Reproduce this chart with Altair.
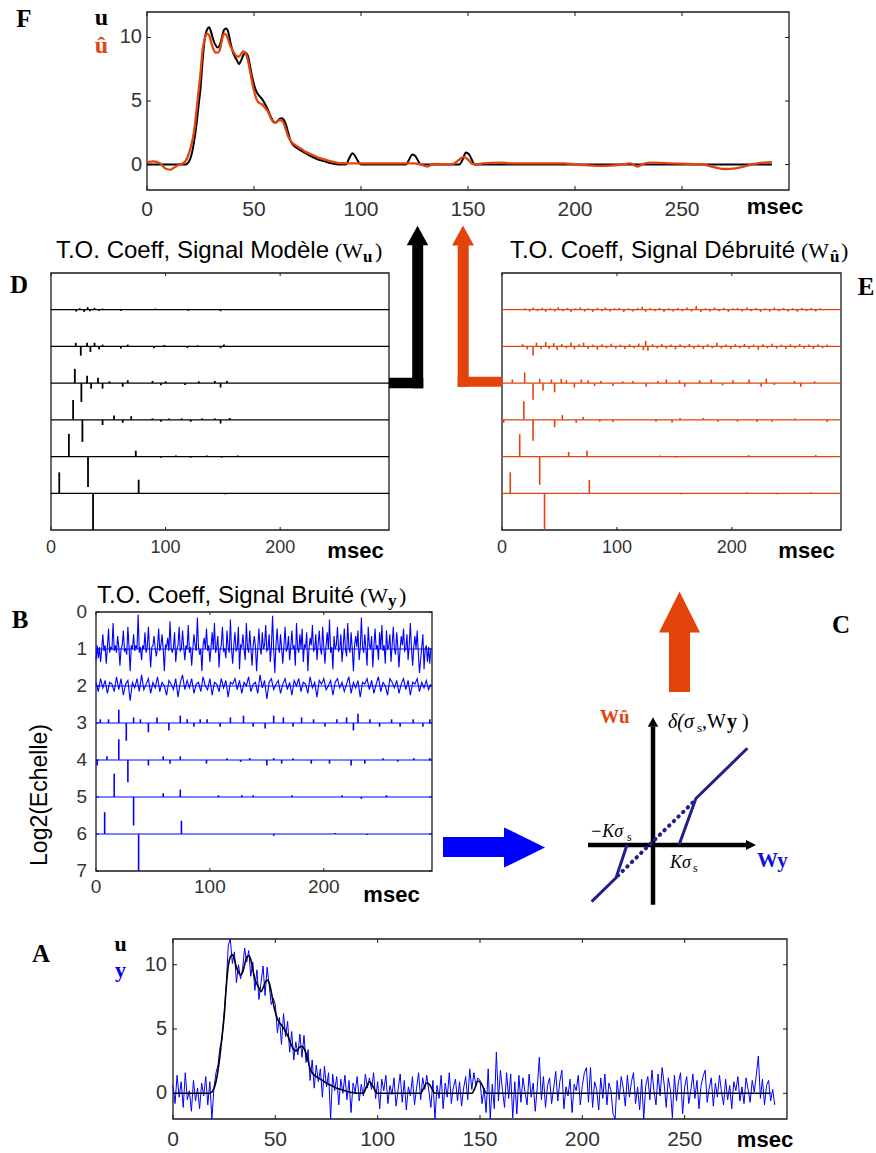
import altair as alt
import pandas as pd

W, H = 876, 1153
ORANGE = "#e2440c"
BLUE = "#0000ff"
NAVY = "#20208c"
INK = "#1a1a1a"
LABEL = "#333333"
SANS = "Liberation Sans"
SERIF = "Liberation Serif"

# ---------------- panel frames (data domain -> pixel range) ----------------
F_FRAME = {"xd": [0, 300], "xr": [147, 789], "yd": [-2, 12], "yr": [190, 12]}
A_FRAME = {"xd": [0, 300], "xr": [173, 787], "yd": [-2, 12], "yr": [1119, 939]}
B_FRAME = {"xd": [0, 295], "xr": [96, 432], "yd": [0, 7], "yr": [612, 871]}
D_FRAME = {"xd": [0, 295], "xr": [51, 389], "yd": [0, 7], "yr": [273, 530]}
E_FRAME = {"xd": [0, 295], "xr": [502, 841], "yd": [0, 7], "yr": [273, 530]}
C_FRAME = {"xd": [-3, 4], "xr": [575, 757], "yd": [-3, 5], "yr": [923, 715]}

SIG_XTICKS = [0, 50, 100, 150, 200, 250]
SIG_YTICKS = [0, 5, 10]
COEF_XTICKS = [0, 100, 200]
LEVEL_TICKS = [0, 1, 2, 3, 4, 5, 6, 7]
LEVELS = [1, 2, 3, 4, 5, 6]

# ---------------- signals ----------------
U_T = [0, 18, 19.5, 21, 22, 23, 24, 25, 26, 27, 28, 29, 30, 31, 32, 33, 34, 35, 36, 37, 38, 39,
       40, 41, 42, 43, 44, 45, 46, 47, 48, 49, 50, 51, 52, 53, 54, 55, 56, 57, 58, 59, 60, 61,
       62, 63, 64, 65, 66, 67, 68, 70, 72, 74, 76, 78, 80, 82, 84, 86, 88, 90, 93, 94.5, 96,
       97.5, 99, 100, 121, 122.5, 124, 125.5, 127, 128, 146, 147.5, 149, 150.5, 152, 153, 292]
U_V = [0, 0, 0.2, 0.9, 1.8, 3.0, 4.5, 6.0, 8.2, 9.9, 10.6, 10.8, 10.4, 9.8, 9.4, 9.2, 9.4, 10.0,
       10.6, 10.7, 10.4, 9.6, 8.9, 8.5, 8.2, 7.9, 8.2, 8.6, 8.8, 8.6, 7.9, 7.0, 6.3, 5.8, 5.5,
       5.3, 5.1, 4.8, 4.5, 4.1, 3.7, 3.4, 3.3, 3.4, 3.6, 3.65, 3.5, 3.1, 2.5, 1.9, 1.6, 1.3,
       1.1, 0.9, 0.7, 0.55, 0.4, 0.3, 0.2, 0.1, 0.05, 0.0, 0.0, 0.5, 0.9, 0.6, 0.15, 0.0, 0.0,
       0.4, 0.8, 0.65, 0.2, 0.0, 0.0, 0.4, 0.95, 0.8, 0.3, 0.0, 0.0]

UHAT_T = [0, 3, 6, 9, 11, 13, 15, 17, 19, 20.5, 22, 23, 24, 25, 26, 27, 28, 29, 30, 31, 32, 33,
          34, 35, 36, 37, 38, 39, 40, 41, 42, 43, 44, 45, 46, 47, 48, 49, 50, 51, 52, 53, 54,
          55, 56, 57, 58, 59, 60, 61, 62, 63, 64, 65, 66, 67, 68, 70, 72, 74, 76, 78, 80, 82,
          84, 86, 88, 90, 100, 110, 120, 125, 128, 131, 134, 140, 143, 146, 148, 150, 152, 154,
          157, 165, 170, 180, 195, 200, 205, 213, 220, 226, 229, 232, 236, 245, 260, 265, 270,
          275, 280, 284, 288, 292]
UHAT_V = [0.2, 0.25, 0.1, -0.35, -0.4, -0.2, 0.0, 0.1, 0.6, 1.4, 2.6, 4.0, 5.6, 7.2, 9.0, 9.9,
          10.3, 10.2, 9.6, 9.1, 8.8, 8.8, 9.0, 9.8, 10.3, 10.2, 9.8, 9.3, 9.0, 8.7, 8.5, 8.5,
          8.7, 8.9, 8.8, 8.3, 7.5, 6.6, 5.8, 5.2, 4.9, 4.8, 4.7, 4.5, 4.3, 4.0, 3.6, 3.35, 3.3,
          3.4, 3.5, 3.45, 3.2, 2.7, 2.2, 1.9, 1.7, 1.45, 1.25, 1.0, 0.85, 0.7, 0.55, 0.45,
          0.35, 0.25, 0.18, 0.12, 0.1, 0.1, 0.1, 0.1, 0.0, -0.15, 0.05, 0.0, 0.05, 0.4, 0.6,
          0.4, 0.05, 0.0, 0.1, 0.15, 0.1, 0.1, 0.1, 0.0, -0.05, -0.1, -0.05, 0.1, -0.15, 0.05,
          0.15, 0.1, 0.0, -0.2, -0.35, -0.3, -0.1, 0.05, 0.15, 0.2]

# noisy measurement y, one sample per msec
Y_NOISY = [
    0.6, -0.8, 1.4, -0.3, 0.9, -1.1, 1.6, -0.5, 0.2, -1.4,
    1.0, -0.6, 0.4, -1.2, 0.8, -0.2, 1.3, -0.9, 0.9, -2.0,
    0.4, 1.6, 2.2, 3.6, 4.2, 6.3, 8.4, 11.5, 12.0, 10.1,
    11.0, 8.6, 10.0, 8.9, 9.7, 11.3, 10.2, 11.1, 9.1, 10.2,
    8.0, 9.6, 7.3, 8.6, 9.9, 7.6, 9.8, 8.4, 6.9, 7.4,
    6.9, 4.7, 5.9, 3.8, 6.2, 4.4, 5.6, 3.2, 4.8, 2.6,
    4.0, 3.0, 4.6, 2.8, 4.5, 2.4, 3.4, 1.0, 2.6, 0.4,
    2.2, 0.9, 1.9, -0.3, 2.1, 0.5, 1.6, -2.0, 1.5, 0.2,
    1.3, -0.9, 1.1, 0.0, 1.4, -0.5, 1.0, -1.5, 0.8, 0.1,
    1.3, -0.6, 0.7, -0.2, 1.5, 0.4, 1.2, 0.3, 1.6, -0.4,
    0.9, -1.2, 1.1, 0.2, 1.4, -0.8, 0.6, -0.1, 1.2, -1.0,
    0.3, 1.5, -0.7, 1.0, -1.3, 0.5, -0.2, 1.3, -0.9, 0.4,
    1.6, -0.5, 1.2, 0.3, 1.4, 0.2, -1.1, 1.0, -2.0, 0.6,
    -0.4, 1.4, -1.2, 0.8, -0.3, 1.6, -0.8, 0.5, 1.1, -0.6,
    0.9, -1.0, 0.4, 1.3, -0.5, 1.9, 0.3, 1.6, 0.6, 1.2,
    1.0, -0.8, 0.4, -1.5, 1.9, -2.0, 0.7, -1.2, 3.2, -0.6,
    1.8, 0.2, -1.1, 1.6, -0.4, 1.5, -1.9, 0.9, -1.6, 1.4,
    -0.7, 1.2, 0.1, -0.9, 1.5, -0.3, 0.8, -1.4, 0.5, 2.8,
    -0.5, 1.3, -1.1, 0.6, 1.2, -0.8, 0.4, 1.7, -0.6, 0.9,
    1.8, -1.2, 0.5, -0.2, 1.1, -1.5, 0.7, 0.2, 1.4, -0.9,
    0.6, 1.6, 2.0, -0.7, 2.0, -1.1, 0.9, 0.3, -1.3, 1.2,
    -0.4, 1.5, -0.9, 0.8, 0.2, -1.6, -2.0, 1.0, -0.5, 1.3,
    0.4, -1.0, 1.4, -0.3, 0.9, 1.6, -0.8, 0.5, -1.3, 1.1,
    -2.0, 0.6, 1.3, -0.5, 1.8, 0.2, -0.9, 1.5, -0.2, 2.0,
    0.7, -1.1, 1.2, 0.3, -1.9, 1.4, -0.6, 0.9, 1.6, -1.6,
    0.5, 1.3, -0.8, 0.2, 1.5, -0.4, 1.0, -1.2, 0.6, 1.3,
    1.8, -0.7, 0.4, 1.2, -1.0, 0.8, -0.3, 1.4, 0.1, -0.9,
    1.1, -0.5, 0.6, -1.2, 0.9, 0.2, 1.3, -0.6, 0.5, -0.8,
    1.2, 0.3, -0.7, 1.0, 0.1, 1.4, 2.9, -0.4, 1.1, -0.9,
    0.6, 1.0, -0.6, 0.3, -0.9,
]

# ---------------- wavelet coefficients of noisy y (panel B) ----------------
# level 1: one coefficient per msec
B_ROW1 = [
    -0.3, 0.1, -0.25, 0.05, -0.35, 0.0, 0.4, -0.05, 0.1, -0.4,
    0.05, 0.55, -0.1, 0.05, 0.0, 0.7, -0.05, 0.1, -0.1, 0.35,
    0.05, -0.45, 0.0, 0.1, 0.5, -0.05, 0.0, -0.15, 0.6, 0.05,
    -0.6, 0.1, 0.0, 0.4, -0.05, 0.1, 0.0, 0.93, -0.1, 0.05,
    -0.3, 0.1, 0.0, 0.45, -0.1, 0.05, 0.6, 0.0, -0.5, 0.05,
    0.1, 0.35, 0.0, -0.2, 0.05, 0.55, -0.05, 0.1, 0.4, 0.0,
    -0.6, 0.1, 0.05, 0.3, -0.05, 0.75, 0.0, -0.1, 0.05, 0.45,
    -0.35, 0.0, 0.1, 0.6, -0.05, 0.0, 0.5, 0.05, -0.3, 0.1,
    0.0, 0.65, -0.1, 0.05, -0.45, 0.0, 0.4, 0.1, -0.05, 0.85,
    0.05, -0.15, 0.0, -0.6, 0.1, 0.3, 0.0, 0.55, -0.05, 0.1,
    -0.35, 0.05, 0.45, 0.0, 0.7, -0.1, 0.05, 0.35, -0.5, 0.0,
    0.1, 0.6, -0.05, 0.0, -0.25, 0.5, 0.05, -0.1, 0.8, 0.0,
    -0.4, 0.1, 0.45, -0.05, 0.0, 0.6, -0.55, 0.1, 0.05, 0.4,
    0.0, -0.3, 0.7, 0.05, -0.1, 0.5, 0.0, -0.45, 0.1, 0.35,
    0.05, -0.6, 0.0, 0.55, 0.05, -0.15, 0.45, 0.0, 0.1, 0.65,
    -0.05, 0.0, 0.4, -0.35, 0.05, 0.9, 0.0, -0.65, 0.1, 0.55,
    0.05, -0.1, 0.4, 0.0, -0.4, 0.1, 0.6, -0.05, 0.0, 0.35,
    -0.3, 0.05, 0.5, 0.0, 0.1, -0.45, 0.7, 0.05, -0.1, 0.4,
    0.0, 0.55, -0.35, 0.1, 0.05, 0.45, -0.6, 0.0, 0.3, 0.1,
    0.65, -0.05, 0.0, 0.4, -0.3, 0.1, 0.5, 0.0, -0.15, 0.6,
    0.05, -0.4, 0.1, 0.45, 0.0, 0.8, -0.1, 0.05, -0.55, 0.35,
    0.0, 0.1, 0.6, -0.05, 0.0, 0.4, -0.35, 0.05, 0.55, 0.0,
    -0.2, 0.7, 0.05, -0.1, 0.45, 0.0, -0.6, 0.1, 0.35, 0.05,
    0.5, -0.3, 0.0, 0.85, 0.05, -0.1, 0.4, 0.0, -0.45, 0.6,
    0.1, 0.0, 0.35, -0.5, 0.05, 0.55, 0.0, 0.1, -0.3, 0.45,
    0.0, 0.65, -0.05, 0.1, -0.4, 0.5, 0.0, 0.05, 0.4, -0.35,
    0.1, 0.6, 0.0, -0.15, 0.45, 0.05, -0.5, 0.0, 0.35, 0.1,
    0.55, -0.05, 0.0, 0.4, -0.3, 0.1, 0.7, 0.0, -0.45, 0.05,
    0.35, 0.0, 0.5, -0.1, -0.65, -0.3, 0.05, 0.4, -0.55, 0.0,
    0.1, -0.35, 0.05, -0.4, 0.0,
]
# level 2: read every 2 msec
B_ROW2 = [
    0.1, -0.15, 0.2, -0.05, 0.15, -0.2, 0.1, 0.05, -0.15, 0.25,
    -0.1, 0.2, -0.25, 0.05, 0.15, -0.4, 0.1, -0.05, 0.2, -0.15,
    0.3, -0.1, 0.05, 0.2, -0.2, 0.1, -0.05, 0.25, -0.15, 0.1,
    0.0, -0.25, 0.15, 0.05, -0.1, 0.2, -0.3, 0.1, 0.3, -0.1,
    0.15, -0.05, 0.2, -0.2, 0.05, 0.1, -0.15, 0.25, 0.0, -0.1,
    0.2, -0.25, 0.1, 0.05, -0.15, 0.2, -0.05, 0.15, -0.3, 0.1,
    0.05, 0.2, -0.1, 0.15, -0.2, 0.1, 0.0, 0.25, -0.15, 0.05,
    0.1, -0.2, 0.3, -0.05, 0.15, -0.35, 0.1, 0.2, -0.1, 0.05,
    0.15, -0.2, 0.05, 0.2, -0.1, 0.1, -0.25, 0.15, 0.0, 0.2,
    -0.15, 0.1, 0.05, -0.2, 0.25, -0.05, 0.1, -0.3, 0.15, 0.05,
    0.2, -0.1, 0.0, 0.15, -0.25, 0.1, 0.2, -0.05, 0.1, -0.15,
    0.05, 0.25, -0.2, 0.1, -0.05, 0.15, -0.3, 0.1, 0.05, 0.2,
    -0.1, 0.15, -0.2, 0.05, 0.25, -0.15, 0.1, 0.0, -0.25, 0.2,
    0.1, -0.05, 0.15, -0.2, 0.05, 0.2, -0.1, 0.15, -0.25, 0.1,
    0.05, 0.2, -0.15, 0.1, -0.05, 0.15, -0.1, 0.05,
]
B_SPIKES = {
    3: [(3.8, 0.1), (11, 0.1), (20, 0.36), (26.6, -0.48), (33, 0.15), (39, 0.1), (46, -0.25),
        (53.5, 0.15), (64, -0.2), (74, 0.2), (80, 0.1), (86, -0.1), (91.5, 0.1), (97.5, 0.1),
        (109, -0.1), (118, 0.15), (129.5, 0.2), (138, -0.1), (148.5, -0.15), (156, 0.2),
        (164.5, 0.15), (173, -0.1), (180.5, 0.15), (191, 0.1), (201, -0.1), (211.5, 0.1),
        (220, 0.15), (226, -0.2), (230, 0.25), (240.5, 0.1), (249, -0.1), (259.5, 0.1),
        (267, -0.1), (278.5, 0.1), (287, -0.1), (293, 0.1)],
    4: [(1, -0.15), (9.6, 0.1), (20, 0.56), (28, -0.6), (46, -0.15), (59, 0.1), (65, -0.1),
        (74, 0.1), (97, -0.1), (115, 0.05), (127, -0.05), (135, 0.05), (150, -0.15), (156, 0.05),
        (163, -0.1), (173, 0.05), (189, -0.1), (205, -0.1), (224, -0.15), (236, -0.1),
        (252, 0.05), (265, -0.05), (279, 0.05), (293, 0.05)],
    5: [(16, 0.63), (33, -0.77), (59, 0.1), (74, 0.2), (107.5, 0.05), (128, 0.05), (138, 0.05),
        (172, 0.05), (216, 0.05), (233, -0.05), (255, 0.05)],
    6: [(7.6, 0.59), (37.4, -1.0), (75, 0.36), (156, -0.05), (210, 0.03), (238, -0.03)],
}

# ---------------- coefficients of the model signal (panel D) ----------------
D_SPIKES = {
    1: [(22, -0.05), (25, 0.04), (29, -0.06), (32, 0.07), (34, -0.04), (38, 0.05), (42, -0.03),
        (45, 0.03), (61, -0.03), (91, 0.03), (120, -0.03), (148, -0.04)],
    2: [(21.6, 0.1), (26, -0.25), (31.5, 0.1), (34.4, -0.15), (38, 0.1), (42, -0.08), (45, 0.05),
        (61, -0.06), (67, 0.05), (90, -0.05), (99, 0.04), (119, -0.04), (128, 0.03),
        (148, -0.05), (151, 0.05)],
    3: [(20.8, 0.39), (26.5, -0.51), (31.5, 0.2), (35, -0.15), (41, 0.15), (45, -0.15),
        (51, 0.05), (62.6, -0.1), (67, 0.08), (88.6, 0.06), (96, -0.06), (100, 0.05),
        (117, -0.05), (129, 0.05), (143, 0.06), (148, -0.12), (153.5, 0.06)],
    4: [(19.3, 0.54), (27.4, -0.6), (45, -0.14), (55, 0.12), (62.6, -0.08), (70, 0.1),
        (88.6, 0.04), (96, -0.05), (103, 0.04), (114, 0.04), (122, -0.05), (132, 0.04),
        (143, 0.04), (148, -0.1), (156, 0.05)],
    5: [(15.6, 0.62), (32.3, -0.83), (74, 0.16), (96, -0.03), (109, 0.03), (122, -0.03),
        (136, 0.03), (149, -0.03), (163, 0.03)],
    6: [(7.2, 0.57), (36.7, -1.0), (76.5, 0.37), (152, -0.03)],
}

# ---------------- coefficients of the denoised signal (panel E) ----------------
E_SPIKES = {
    1: [(20, 0.04), (24, -0.05), (27, 0.06), (31, -0.04), (35, 0.05), (38, -0.06), (42, 0.04),
        (46, -0.05), (49, 0.07), (53, -0.04), (57, 0.05), (60, -0.06), (64, 0.04), (68, 0.06),
        (72, -0.05), (75, 0.04), (79, -0.06), (83, 0.05), (87, -0.04), (90, 0.06), (94, -0.05),
        (98, 0.04), (102, 0.05), (106, -0.06), (110, 0.04), (114, -0.05), (118, 0.05),
        (122, 0.08), (125, -0.06), (129, 0.05), (133, -0.04), (137, 0.05), (141, -0.06),
        (145, 0.04), (149, -0.05), (153, 0.05), (157, -0.04), (161, 0.06), (165, -0.05),
        (169, 0.1), (173, -0.06), (177, 0.04), (181, -0.05), (185, 0.06), (189, -0.04),
        (193, 0.05), (197, -0.06), (201, 0.04), (205, 0.05), (209, -0.05), (213, 0.06),
        (217, -0.04), (221, 0.05), (225, -0.06), (229, 0.04), (233, -0.05), (237, 0.06),
        (241, -0.04), (245, 0.05), (249, -0.05), (253, 0.04), (257, -0.06), (261, 0.05),
        (265, -0.04), (269, 0.05), (273, -0.05), (277, 0.04)],
    2: [(18, 0.06), (22, -0.08), (27, -0.25), (30, 0.1), (34, -0.07), (38, 0.12), (41, -0.06),
        (45, 0.09), (48, -0.1), (52, 0.07), (56, -0.05), (60, 0.11), (63, -0.08), (67, 0.06),
        (71, 0.1), (75, -0.07), (79, 0.05), (83, -0.09), (87, 0.06), (91, -0.05), (95, 0.07),
        (99, -0.06), (103, 0.05), (107, -0.07), (111, 0.06), (115, -0.05), (119, 0.08),
        (123, -0.1), (125, 0.15), (127, -0.12), (131, 0.06), (135, -0.05), (139, 0.07),
        (143, -0.06), (147, 0.05), (151, -0.08), (155, 0.06), (159, -0.05), (163, 0.07),
        (167, -0.06), (171, 0.05), (175, -0.07), (179, 0.06), (183, -0.05), (187, 0.1),
        (191, -0.06), (195, 0.05), (199, -0.07), (203, 0.06), (207, -0.05), (211, 0.07),
        (215, -0.06), (219, 0.05), (223, -0.09), (227, 0.06), (231, -0.05), (235, 0.07),
        (239, -0.06), (243, 0.05), (247, -0.07), (251, 0.06), (255, -0.05), (259, 0.07),
        (263, -0.06), (267, 0.05), (271, -0.07), (275, 0.06), (279, -0.05), (283, 0.05)],
    3: [(9, 0.1), (19.7, 0.29), (27, -0.45), (32.8, 0.12), (35.7, -0.2), (43, 0.1),
        (45.8, -0.25), (51.6, 0.12), (56, 0.08), (63, -0.12), (69, 0.1), (75, 0.08),
        (80.6, -0.08), (86, 0.06), (96.5, -0.08), (105, 0.05), (114, 0.06), (125.5, -0.1),
        (135.6, 0.06), (143, 0.1), (154.5, 0.08), (159, -0.1), (172, 0.08), (182, 0.1),
        (192, -0.06), (201, 0.08), (215, 0.1), (225.5, -0.1), (230, 0.12), (237, -0.05),
        (254.5, 0.06), (260, -0.1), (272, 0.05)],
    4: [(1.5, -0.08), (19, 0.51), (27, -0.57), (45.8, -0.2), (52.5, 0.13), (64.6, -0.08),
        (70.7, 0.08), (85, -0.05), (96.5, -0.06), (134, -0.05), (148, -0.08), (155, 0.05),
        (175, 0.05), (188, -0.05), (205, -0.05), (222, -0.06), (235, -0.05), (255, 0.04),
        (283, -0.06)],
    5: [(15.4, 0.61), (32.8, -0.77), (58, 0.13), (74, 0.16), (137.6, 0.03), (151, -0.03),
        (214.6, 0.04), (273, 0.04)],
    6: [(7.2, 0.57), (37, -1.0), (76, 0.36), (156, -0.03), (213, 0.03), (239, -0.03),
        (269, 0.03)],
}

# ---------------- threshold function (panel C), units of K*sigma ----------------
C_LOW_X = [-2.36, -1.42, -1.0]
C_LOW_Y = [-2.18, -1.26, 0.0]
C_HIGH_X = [1.0, 1.65, 3.63]
C_HIGH_Y = [0.0, 1.79, 3.72]
C_DOT_X = [-1.35, 1.58]
C_DOT_Y = [-1.18, 1.68]
C_AXES = [{"x": 0, "y": -2.3, "x2": 0, "y2": 4.55}, {"x": -2.5, "y": 0, "x2": 3.62, "y2": 0}]
C_AXIS_HEADS = [{"x": 0, "y": 4.73, "s": "up"}, {"x": 3.77, "y": 0, "s": "right"}]

UP = "M-1,0.9L0,-0.9L1,0.9Z"
UP_FULL = "M-1,1L0,-1L1,1Z"
RIGHT = "M-1,-0.98L1,0L-1,0.98Z"

ONE = pd.DataFrame({"k": [0]})


def scales(fr, clamp=True):
    xs = alt.Scale(domain=fr["xd"], range=fr["xr"], nice=False, zero=False, clamp=clamp)
    ys = alt.Scale(domain=fr["yd"], range=fr["yr"], nice=False, zero=False, clamp=clamp)
    return xs, ys


def frame_layers(fr, xticks, yticks, xlab, ylab, tlen, yside_ticks):
    """Box, inward ticks and tick labels; xlab=(size, baseline_px), ylab=(size, right_px)."""
    xs, ys = scales(fr)
    x_lo, x_hi = fr["xd"]
    if fr["yr"][0] > fr["yr"][1]:
        y_bot, y_top = fr["yd"][0], fr["yd"][1]
    else:
        y_bot, y_top = fr["yd"][1], fr["yd"][0]
    box_df = pd.DataFrame([{"x0": x_lo, "x1": x_hi, "y0": y_bot, "y1": y_top}])
    box = alt.Chart(box_df).mark_rect(fillOpacity=0, stroke=INK, strokeWidth=1.3).encode(
        x=alt.X("x0:Q", scale=xs, axis=None), x2="x1:Q",
        y=alt.Y("y0:Q", scale=ys, axis=None), y2="y1:Q")
    layers = [box]
    for edge, off in ((y_bot, -tlen), (y_top, tlen)):
        df = pd.DataFrame({"t": xticks, "e": [edge] * len(xticks)})
        layers.append(alt.Chart(df).mark_rule(color=INK, strokeWidth=1, y2Offset=off).encode(
            x=alt.X("t:Q", scale=xs, axis=None), y=alt.Y("e:Q", scale=ys, axis=None), y2="e:Q"))
    if yside_ticks:
        for edge, off in ((x_lo, tlen), (x_hi, -tlen)):
            df = pd.DataFrame({"v": yticks, "e": [edge] * len(yticks)})
            layers.append(alt.Chart(df).mark_rule(color=INK, strokeWidth=1, x2Offset=off).encode(
                y=alt.Y("v:Q", scale=ys, axis=None), x=alt.X("e:Q", scale=xs, axis=None), x2="e:Q"))
    # tick labels
    xl = pd.DataFrame({"t": xticks, "lab": [str(v) for v in xticks]})
    layers.append(alt.Chart(xl).mark_text(font=SANS, fontSize=xlab[0], color=LABEL,
                                          align="center", baseline="alphabetic").encode(
        x=alt.X("t:Q", scale=xs, axis=None), y=alt.value(xlab[1]), text="lab:N"))
    if ylab:
        yl = pd.DataFrame({"v": yticks, "lab": [str(v) for v in yticks]})
        layers.append(alt.Chart(yl).mark_text(font=SANS, fontSize=ylab[0], color=LABEL,
                                              align="right", baseline="middle").encode(
            y=alt.Y("v:Q", scale=ys, axis=None), x=alt.value(ylab[1]), text="lab:N"))
    return layers, xs, ys


def spike_layers(fr, spikes, color, width):
    xs, ys = scales(fr)
    recs = [{"row": r, "t": t, "v": v} for r, lst in spikes.items() for t, v in lst]
    base = pd.DataFrame({"row": LEVELS, "x0": [fr["xd"][0]] * 6, "x1": [fr["xd"][1]] * 6})
    return [
        alt.Chart(base).mark_rule(color=color, strokeWidth=1.2).encode(
            x=alt.X("x0:Q", scale=xs, axis=None), x2="x1:Q",
            y=alt.Y("row:Q", scale=ys, axis=None)),
        alt.Chart(pd.DataFrame(recs)).transform_calculate(tip="datum.row - datum.v")
        .mark_rule(color=color, strokeWidth=width).encode(
            x=alt.X("t:Q", scale=xs, axis=None),
            y=alt.Y("row:Q", scale=ys, axis=None), y2="tip:Q"),
    ]


def txt(x, y, s, size, color="black", font=SANS, weight="normal", style="normal",
        align="left", baseline="alphabetic", angle=None):
    kw = dict(text=s, fontSize=size, color=color, font=font, fontWeight=weight,
              fontStyle=style, align=align, baseline=baseline)
    if angle is not None:
        kw["angle"] = angle
    return alt.Chart(ONE).mark_text(**kw).encode(x=alt.value(x), y=alt.value(y))


def bar(x1, y1, x2, y2, w, color):
    return alt.Chart(ONE).mark_rule(color=color, strokeWidth=w, strokeCap="butt").encode(
        x=alt.value(x1), y=alt.value(y1), x2=alt.value(x2), y2=alt.value(y2))


def head(x, y, shape, px, color):
    return alt.Chart(ONE).mark_point(shape=shape, size=px * px, filled=True, color=color,
                                     opacity=1, strokeWidth=0).encode(
        x=alt.value(x), y=alt.value(y))


# ---------------- panel F ----------------
fl, fxs, fys = frame_layers(F_FRAME, SIG_XTICKS, SIG_YTICKS, (21, 216), (20, 142), 4, True)
fl.append(alt.Chart(pd.DataFrame({"t": U_T, "v": U_V})).mark_line(
    color="black", strokeWidth=2, interpolate="monotone").encode(
    x=alt.X("t:Q", scale=fxs, axis=None), y=alt.Y("v:Q", scale=fys, axis=None)))
fl.append(alt.Chart(pd.DataFrame({"t": UHAT_T, "v": UHAT_V})).mark_line(
    color=ORANGE, strokeWidth=2.3, interpolate="monotone").encode(
    x=alt.X("t:Q", scale=fxs, axis=None), y=alt.Y("v:Q", scale=fys, axis=None)))
panel_f = alt.layer(*fl)

# ---------------- panel A ----------------
al, axs, ays = frame_layers(A_FRAME, SIG_XTICKS, SIG_YTICKS, (21, 1146), (20, 167), 4, True)
al.append(alt.Chart(pd.DataFrame({"t": list(range(len(Y_NOISY))), "v": Y_NOISY})).mark_line(
    color=BLUE, strokeWidth=1).encode(
    x=alt.X("t:Q", scale=axs, axis=None), y=alt.Y("v:Q", scale=ays, axis=None)))
al.append(alt.Chart(pd.DataFrame({"t": U_T, "v": U_V})).mark_line(
    color="black", strokeWidth=1.6, interpolate="monotone").encode(
    x=alt.X("t:Q", scale=axs, axis=None), y=alt.Y("v:Q", scale=ays, axis=None)))
panel_a = alt.layer(*al)

# ---------------- panel D ----------------
dl, dxs, dys = frame_layers(D_FRAME, COEF_XTICKS, LEVEL_TICKS, (18, 553), None, 3, False)
dl += spike_layers(D_FRAME, D_SPIKES, "black", 1.8)
panel_d = alt.layer(*dl)

# ---------------- panel E ----------------
el, exs, eys = frame_layers(E_FRAME, COEF_XTICKS, LEVEL_TICKS, (18, 553), None, 3, False)
el += spike_layers(E_FRAME, E_SPIKES, ORANGE, 1.6)
panel_e = alt.layer(*el)

# ---------------- panel B ----------------
bl, bxs, bys = frame_layers(B_FRAME, COEF_XTICKS, LEVEL_TICKS, (19, 893), (19, 87), 3, True)
bl += spike_layers(B_FRAME, B_SPIKES, BLUE, 1.6)
t1 = list(range(len(B_ROW1)))
t2 = [2 * i for i in range(len(B_ROW2))]
b_lines = pd.DataFrame({"t": t1 + t2, "v": B_ROW1 + B_ROW2,
                        "row": [1] * len(B_ROW1) + [2] * len(B_ROW2)})
bl.append(alt.Chart(b_lines).transform_calculate(yy="datum.row - datum.v").mark_line(
    color=BLUE, strokeWidth=1.1).encode(
    x=alt.X("t:Q", scale=bxs, axis=None), y=alt.Y("yy:Q", scale=bys, axis=None),
    detail="row:N"))
panel_b = alt.layer(*bl)

# ---------------- panel C ----------------
cxs, cys = scales(C_FRAME, clamp=False)
c_lines = pd.DataFrame({"x": C_LOW_X + C_HIGH_X, "y": C_LOW_Y + C_HIGH_Y,
                        "seg": ["low"] * 3 + ["high"] * 3})
c_dot = pd.DataFrame({"x": C_DOT_X, "y": C_DOT_Y})
c_heads = pd.DataFrame(C_AXIS_HEADS)
cl = [
    alt.Chart(pd.DataFrame(C_AXES)).mark_rule(color="black", strokeWidth=4.5).encode(
        x=alt.X("x:Q", scale=cxs, axis=None), y=alt.Y("y:Q", scale=cys, axis=None),
        x2="x2:Q", y2="y2:Q"),
    alt.Chart(c_heads[c_heads.s == "up"]).mark_point(
        shape=UP, size=110, filled=True, color="black", opacity=1, strokeWidth=0).encode(
        x=alt.X("x:Q", scale=cxs, axis=None), y=alt.Y("y:Q", scale=cys, axis=None)),
    alt.Chart(c_heads[c_heads.s == "right"]).mark_point(
        shape=RIGHT, size=100, filled=True, color="black", opacity=1, strokeWidth=0).encode(
        x=alt.X("x:Q", scale=cxs, axis=None), y=alt.Y("y:Q", scale=cys, axis=None)),
    alt.Chart(c_lines).mark_line(color=NAVY, strokeWidth=3).encode(
        x=alt.X("x:Q", scale=cxs, axis=None), y=alt.Y("y:Q", scale=cys, axis=None),
        detail="seg:N"),
    alt.Chart(c_dot).mark_line(color=NAVY, strokeWidth=4, strokeDash=[0.5, 6],
                               strokeCap="round").encode(
        x=alt.X("x:Q", scale=cxs, axis=None), y=alt.Y("y:Q", scale=cys, axis=None)),
]
panel_c = alt.layer(*cl)

# ---------------- arrows ----------------
arrows = [
    bar(389, 383, 423.3, 383, 10.6, "black"),
    bar(417.7, 388.3, 417.7, 244, 11, "black"),
    head(417.5, 235.5, UP, 21.5, "black"),
    bar(457.7, 381.7, 502, 381.7, 10, ORANGE),
    bar(463.2, 386.7, 463.2, 244, 11, ORANGE),
    head(463, 235.5, UP, 22, ORANGE),
    bar(443, 847, 505, 847, 20, BLUE),
    head(524.5, 847.5, RIGHT, 41, BLUE),
    bar(679.5, 692, 679.5, 631, 21, ORANGE),
    head(679.5, 612, UP_FULL, 41, ORANGE),
]

# ---------------- texts ----------------
texts = [
    # panel F
    txt(24, 27, "F", 25, font=SERIF, weight="bold", align="center"),
    txt(101.5, 25, "u", 24, font=SERIF, weight="bold", align="center"),
    txt(101.5, 53, "û", 24, color=ORANGE, font=SERIF, weight="bold", align="center"),
    txt(775, 214, "msec", 22, weight="bold", align="center"),
    # panel D
    txt(329, 258, "T.O. Coeff, Signal Modèle", 24, align="right"),
    txt(335, 258, "(W", 22, font=SERIF),
    txt(363, 262, "u", 17, font=SERIF, weight="bold"),
    txt(375, 258, ")", 22, font=SERIF),
    txt(19, 293, "D", 25, font=SERIF, weight="bold", align="center"),
    txt(355.5, 558, "msec", 22, weight="bold", align="center"),
    # panel E
    txt(795, 258, "T.O. Coeff, Signal Débruité", 24, align="right"),
    txt(801, 258, "(W", 22, font=SERIF),
    txt(830, 262, "û", 17, font=SERIF, weight="bold"),
    txt(841, 258, ")", 22, font=SERIF),
    txt(866, 295, "E", 25, font=SERIF, weight="bold", align="center"),
    txt(806.5, 558, "msec", 22, weight="bold", align="center"),
    # panel B
    txt(354, 603, "T.O. Coeff, Signal Bruité", 24, align="right"),
    txt(360, 603, "(W", 22, font=SERIF),
    txt(388, 606, "y", 17, font=SERIF, weight="bold"),
    txt(399, 603, ")", 22, font=SERIF),
    txt(20, 628, "B", 25, font=SERIF, weight="bold", align="center"),
    txt(40, 795, "Log2(Echelle)", 23, align="center", baseline="middle", angle=270),
    txt(391.5, 902, "msec", 22, weight="bold", align="center"),
    # panel C
    txt(841, 633, "C", 25, font=SERIF, weight="bold", align="center"),
    txt(600, 723, "Wû", 19, color=ORANGE, font=SERIF, weight="bold"),
    txt(668, 728, "δ(σ", 20, font=SERIF, style="italic"),
    txt(697, 732, "s", 13, font=SERIF),
    txt(702, 728, ",W", 20, font=SERIF),
    txt(727, 728, "y", 20, font=SERIF, weight="bold"),
    txt(742, 728, ")", 20, font=SERIF),
    txt(590, 837, "−Kσ", 18, font=SERIF, style="italic"),
    txt(627, 841, "s", 12, font=SERIF),
    txt(670, 868, "Kσ", 18, font=SERIF, style="italic"),
    txt(693, 872, "s", 12, font=SERIF),
    txt(757, 867, "Wy", 21, color="#1010d8", font=SERIF, weight="bold"),
    # panel A
    txt(41, 962, "A", 25, font=SERIF, weight="bold", align="center"),
    txt(120.5, 951, "u", 22, font=SERIF, weight="bold", align="center"),
    txt(120.5, 977, "y", 22, color=BLUE, font=SERIF, weight="bold", align="center"),
    txt(765, 1147, "msec", 22, weight="bold", align="center"),
]

chart = alt.layer(panel_f, panel_d, panel_e, panel_b, panel_c, panel_a, *arrows, *texts).resolve_scale(
    x="independent", y="independent"
).properties(width=W, height=H, padding=0, autosize="none", background="white").configure_view(
    strokeWidth=0
)

chart.save("out.html", embed_options={"renderer": "svg", "actions": False})
